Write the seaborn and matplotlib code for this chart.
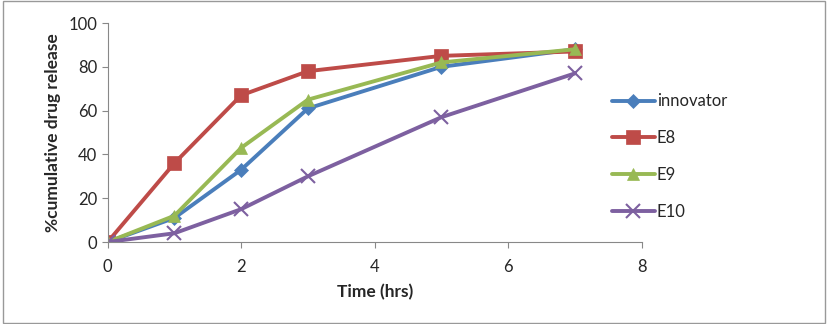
import pandas as pd
import matplotlib.pyplot as plt
import seaborn as sns

# -----------------------------
# DATA
# -----------------------------

time_hrs = [0, 1, 2, 3, 5, 7]

innovator = [0, 11, 33, 61, 80, 88]
e8 = [0, 36, 67, 78, 85, 87]
e9 = [0, 12, 43, 65, 82, 88]
e10 = [0, 4, 15, 30, 57, 77]

series_names = ['innovator', 'E8', 'E9', 'E10']
series_values = [innovator, e8, e9, e10]

colors = ['#4A7EBB', '#BE4B48', '#98B954', '#7D60A0']
markers = ['D', 's', '^', 'x']
msizes = [7, 10, 9, 10]

rows = []
for name, vals in zip(series_names, series_values):
    for t, v in zip(time_hrs, vals):
        rows.append({'time': t, 'release': v, 'formulation': name})
df = pd.DataFrame(rows)

# -----------------------------
# PLOT
# -----------------------------

sns.set_style('white')
plt.rcParams['font.family'] = ['Lato', 'DejaVu Sans']

fig = plt.figure(figsize=(8.28, 3.24), dpi=100)
ax = fig.add_axes([0.130, 0.253, 0.645, 0.676])

for name, col, mk, ms in zip(series_names, colors, markers, msizes):
    sub = df[df['formulation'] == name]
    sns.lineplot(
        data=sub,
        x='time',
        y='release',
        ax=ax,
        color=col,
        marker=mk,
        markersize=ms,
        markeredgecolor=col,
        markeredgewidth=1.5 if mk == 'x' else 0.5,
        linewidth=2.8,
        label=name
    )

ax.set_xlim(0, 8)
ax.set_ylim(0, 100)
ax.set_xticks([0, 2, 4, 6, 8])
ax.set_yticks([0, 20, 40, 60, 80, 100])
ax.tick_params(axis='both', labelsize=12, length=4, color='#888888',
               direction='out', left=True, bottom=True)
ax.tick_params(axis='x', pad=8)

for s in ['top', 'right']:
    ax.spines[s].set_visible(False)
for s in ['left', 'bottom']:
    ax.spines[s].set_color('#888888')

ax.set_xlabel('Time (hrs)', fontsize=12.5, fontweight='bold', labelpad=7)
ax.set_ylabel('%cumulative drug release', fontsize=12.5, fontweight='bold', labelpad=5)

ax.legend(
    loc='center left',
    bbox_to_anchor=(0.944, 0.39),
    borderaxespad=0,
    borderpad=0,
    frameon=False,
    fontsize=12,
    labelspacing=1.25,
    handlelength=2.6,
    handletextpad=0.1
)

fig.patches.append(plt.Rectangle((0.004, 0.004), 0.992, 0.992, transform=fig.transFigure,
                                 fill=False, edgecolor='#999999', linewidth=1))

fig.savefig('out.png', dpi=100)
